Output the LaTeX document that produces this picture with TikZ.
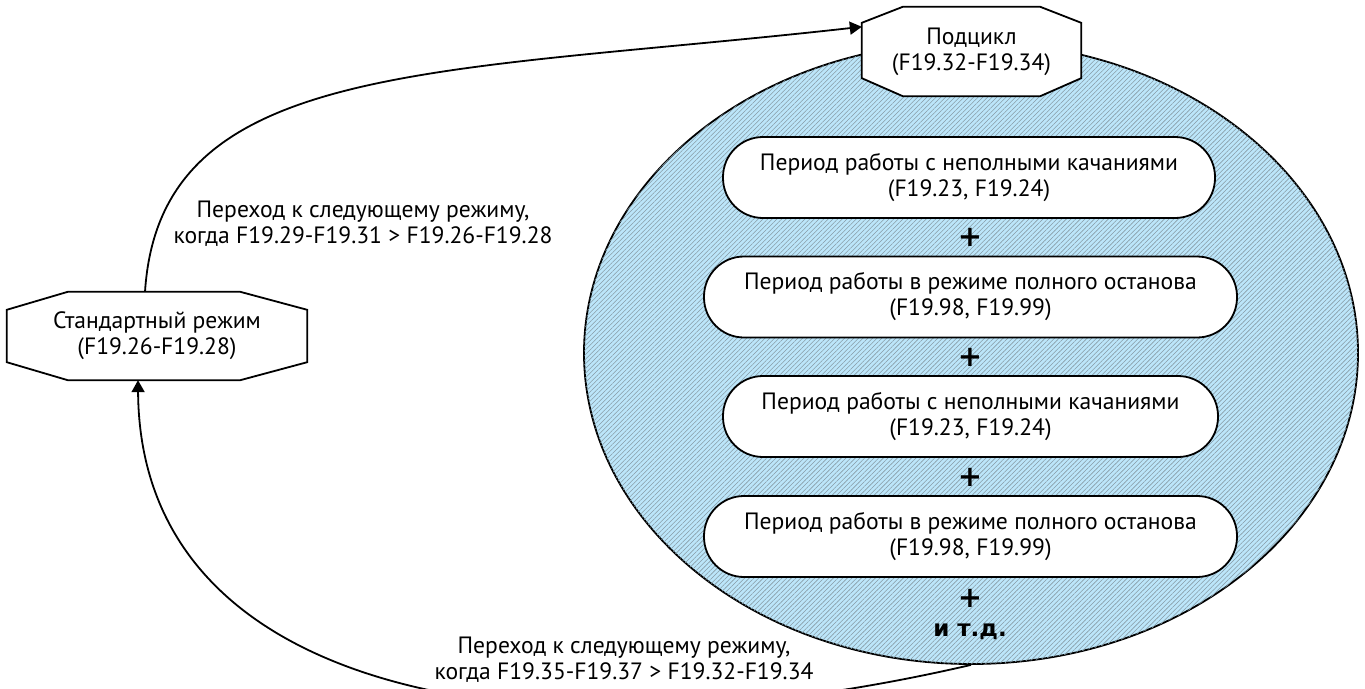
\documentclass[tikz,border=0pt]{standalone}
\usepackage{fontspec}
\setmainfont{PT Sans}
\newfontfamily\djv{DejaVu Sans}
\usetikzlibrary{shapes.geometric,patterns.meta,arrows.meta,calc}
\definecolor{ellfill}{RGB}{188,230,250}
\definecolor{hatch}{RGB}{135,155,165}
\tikzset{
  every node/.style={font=\fontsize{23.6}{26}\selectfont, align=center, inner sep=0pt},
  ln/.style={line width=1.8pt, black},
  pill/.style={draw, line width=1.8pt, fill=white, rounded corners=40pt, minimum height=81pt},
  plus/.style={font=\djv\fontsize{29}{29}\selectfont\bfseries},
  lbl/.style={},
  arr/.style={ln, -{Triangle[width=13pt,length=12pt]}},
}
\begin{document}
\begin{tikzpicture}[x=1pt,y=-1pt]
\useasboundingbox (0,0) rectangle (1365,688);
% big hatched ellipse
\node[ellipse, draw, line width=1.8pt, fill=ellfill, minimum width=774pt, minimum height=622pt,
  postaction={pattern={Lines[angle=45,distance=3.3pt,line width=0.55pt]}, pattern color=hatch}]
  (ell) at (971,353) {};
% octagon nodes
\node[minimum width=219pt, minimum height=89pt] (sub) at (971.5,51.5) {};
\draw[ln, fill=white] ([xshift=41pt]sub.north west) -- ([xshift=-41pt]sub.north east) -- ([yshift=-16pt]sub.north east) -- ([yshift=18pt]sub.south east) -- ([xshift=-41pt]sub.south east) -- ([xshift=41pt]sub.south west) -- ([yshift=18pt]sub.south west) -- ([yshift=-16pt]sub.north west) -- cycle;
\node at (sub.center) {Подцикл\\(F19.32-F19.34)};

\node[minimum width=300pt, minimum height=88pt] (std) at (157,336) {};
\draw[ln, fill=white] ([xshift=61pt]std.north west) -- ([xshift=-67pt]std.north east) -- ([yshift=-18pt]std.north east) -- ([yshift=18pt]std.south east) -- ([xshift=-67pt]std.south east) -- ([xshift=61pt]std.south west) -- ([yshift=18pt]std.south west) -- ([yshift=-18pt]std.north west) -- cycle;
\node at (std.center) {Стандартный режим\\(F19.26-F19.28)};

% pills
\node[pill, minimum width=492pt] (p1) at (969,177.5) {Период работы с неполными качаниями\\(F19.23, F19.24)};
\node[pill, minimum width=533pt] (p2) at (970.5,297) {Период работы в режиме полного останова\\(F19.98, F19.99)};
\node[pill, minimum width=495pt] (p3) at (970.5,416.5) {Период работы с неполными качаниями\\(F19.23, F19.24)};
\node[pill, minimum width=533pt] (p4) at (970.5,536.5) {Период работы в режиме полного останова\\(F19.98, F19.99)};
\node[plus] (s1) at (970,237) {+};
\node[plus] (s2) at (970,357) {+};
\node[plus] (s3) at (970,477) {+};
\node[plus] (s4) at (970,598) {+};
\node[font=\djv\fontsize{23}{25}\selectfont\bfseries] (etc) at (970,632) {и т.д.};

% connectors
\draw[arr] ([xshift=-12pt]std.north) .. controls (160,60) and (430,75) .. ([yshift=-20pt]sub.north west);
\draw[arr] (ell.south) .. controls (540,765) and (140,700) .. ([xshift=-19pt]std.south);

% labels
\node[lbl] (l1) at (363,224) {Переход к следующему режиму,\\когда F19.29-F19.31 > F19.26-F19.28};
\node[lbl] (l2) at (624,660) {Переход к следующему режиму,\\когда F19.35-F19.37 > F19.32-F19.34};
\end{tikzpicture}
\end{document}
